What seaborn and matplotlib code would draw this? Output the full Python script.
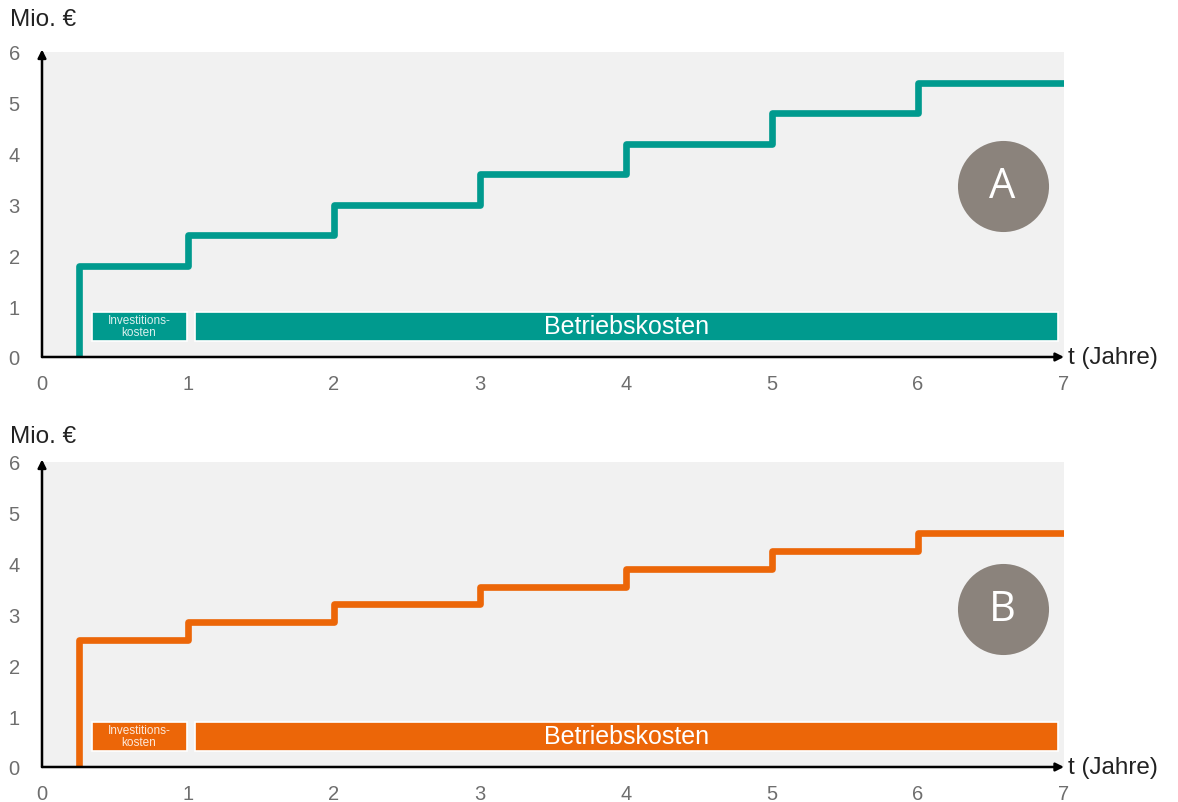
import matplotlib
matplotlib.use("Agg")
import matplotlib.pyplot as plt
import seaborn as sns
import pandas as pd

# Cumulative costs (Mio. €), investment at t = 0.25, then yearly operating costs
start_year = 0.25
years = [1, 2, 3, 4, 5, 6, 7]
costs_a = [1.8, 2.4, 3.0, 3.6, 4.2, 4.8, 5.4]
costs_b = [2.5, 2.85, 3.2, 3.55, 3.9, 4.25, 4.6]
x_ticks = [0, 1, 2, 3, 4, 5, 6, 7]
y_ticks = [0, 1, 2, 3, 4, 5, 6]

invest_span = (0.34, 0.99)
operating_span = (1.05, 6.96)

sns.set_theme(style="white")
plt.rcParams["font.family"] = ["Liberation Sans", "DejaVu Sans"]

TEAL = "#009a8e"
ORANGE = "#ec6608"
TICK = "#6e6e6e"
BADGE = "#8b837c"

fig = plt.figure(figsize=(11.78, 8.03), dpi=100)
W, H = 1178, 803


def panel(top_px, bottom_px, costs, color, badge, badge_y):
    ax = fig.add_axes([42 / W, 1 - bottom_px / H, (1064 - 42) / W, (bottom_px - top_px) / H])
    ax.set_facecolor("#f1f1f1")
    xs = [start_year, start_year] + years
    ys = [0, costs[0]] + costs[1:] + [costs[-1]]
    df = pd.DataFrame({"t": xs, "cost": ys})
    sns.lineplot(data=df, x="t", y="cost", ax=ax, color=color, linewidth=4.8,
                 drawstyle="steps-post", estimator=None, sort=False,
                 solid_joinstyle="round", solid_capstyle="butt")
    # cost-type bars
    ax.barh(y=0.6, width=invest_span[1] - invest_span[0], left=invest_span[0],
            height=0.58, color=color, edgecolor="white", linewidth=1.2)
    ax.barh(y=0.6, width=operating_span[1] - operating_span[0], left=operating_span[0],
            height=0.58, color=color, edgecolor="white", linewidth=1.2)
    ax.text(sum(invest_span) / 2, 0.6, "Investitions-\nkosten", ha="center", va="center",
            color="white", fontsize=8.5, linespacing=1.0, alpha=0.85)
    ax.text(sum(operating_span) / 2, 0.6, "Betriebskosten", ha="center", va="center",
            color="white", fontsize=18)
    # badge
    ax.scatter([6.58], [badge_y], s=4300, color=BADGE, zorder=5, linewidths=0)
    ax.text(6.58, badge_y, badge, ha="center", va="center", color="white",
            fontsize=30, family=["Open Sans", "DejaVu Sans"], zorder=6)

    ax.set_xlim(0, 7)
    ax.set_ylim(0, 6)
    for s in ax.spines.values():
        s.set_visible(False)
    ax.set_xticks(x_ticks)
    ax.set_yticks(y_ticks)
    ax.tick_params(axis="both", length=0, labelsize=14.5, labelcolor=TICK)
    ax.tick_params(axis="x", pad=12)
    ax.tick_params(axis="y", pad=16)
    ax.set_xlabel("")
    ax.set_ylabel("")

    # arrowed axes
    ax.annotate("", xy=(0, 6.05), xytext=(0, 0), xycoords="data",
                arrowprops=dict(arrowstyle="-|>", color="black", lw=1.8,
                                mutation_scale=12, shrinkA=0, shrinkB=0),
                annotation_clip=False)
    ax.annotate("", xy=(7.0, 0), xytext=(0, 0), xycoords="data",
                arrowprops=dict(arrowstyle="-|>", color="black", lw=1.8,
                                mutation_scale=12, shrinkA=0, shrinkB=0),
                annotation_clip=False)
    ax.text(7.03, 0, "t (Jahre)", ha="left", va="center", fontsize=17.5, color="#222222")
    return ax


panel(53, 358, costs_a, TEAL, "A", 3.37)
panel(463, 768, costs_b, ORANGE, "B", 3.1)

fig.text(10 / W, 1 - 20 / H, "Mio. €", ha="left", va="center", fontsize=17.5, color="#222222")
fig.text(10 / W, 1 - 437 / H, "Mio. €", ha="left", va="center", fontsize=17.5, color="#222222")

fig.savefig("out.png", dpi=100)
